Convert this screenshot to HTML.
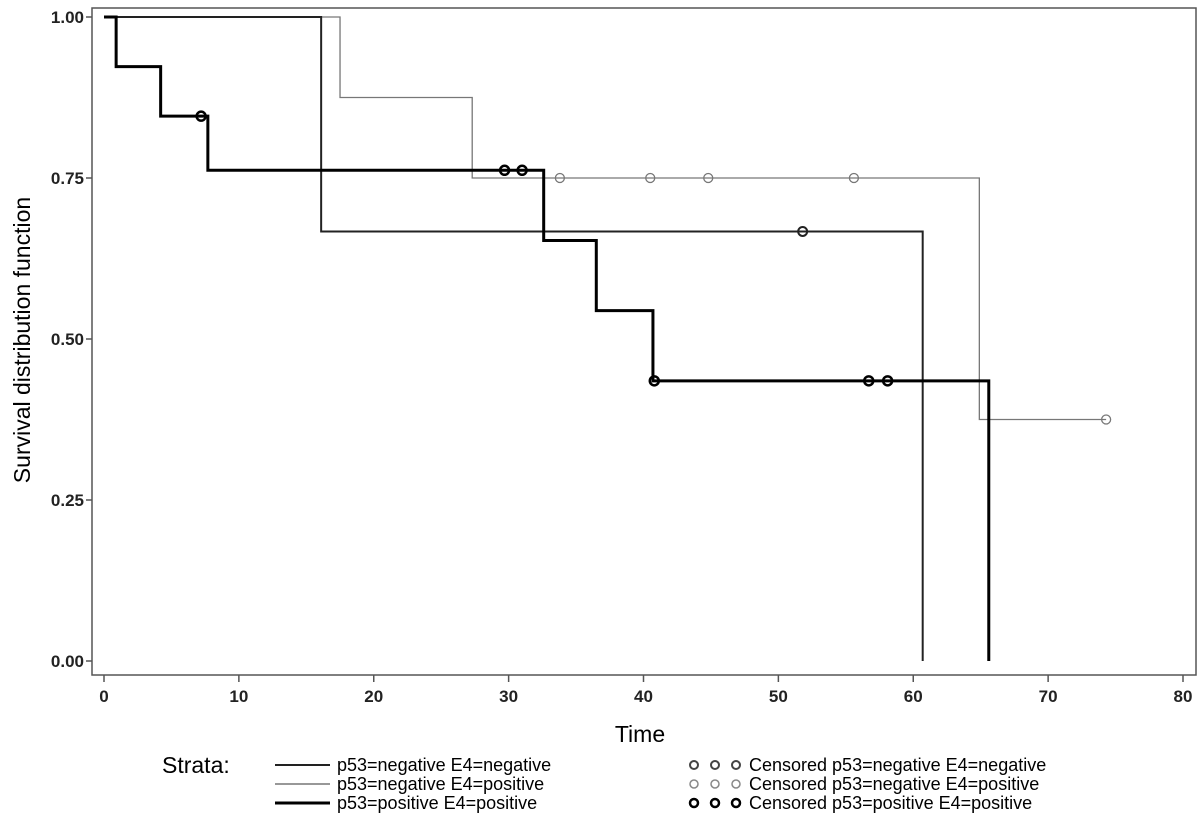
<!DOCTYPE html>
<html><head><meta charset="utf-8"><style>
html,body{margin:0;padding:0;background:#fff;}
svg{display:block;font-family:"Liberation Sans",Arial,sans-serif;}
</style></head><body>
<svg id="chart" width="1204" height="821" viewBox="0 0 1204 821">
<rect x="92" y="8" width="1104" height="667" fill="none" stroke="#555" stroke-width="1.5"/>
<g id="axes"></g>
<g id="series"></g>
<text x="30" y="340" font-size="23" text-anchor="middle" transform="rotate(-90 30 340)">Survival distribution function</text>
<text x="640" y="742" font-size="23" text-anchor="middle">Time</text>
<g font-size="18">
<text x="162" y="773" font-size="23">Strata:</text>
<line x1="275" y1="765" x2="330" y2="765" stroke="#222" stroke-width="2"/>
<text x="337" y="771">p53=negative E4=negative</text>
<line x1="275" y1="784" x2="330" y2="784" stroke="#777" stroke-width="1.5"/>
<text x="337" y="790">p53=negative E4=positive</text>
<line x1="275" y1="803" x2="330" y2="803" stroke="#000" stroke-width="3"/>
<text x="337" y="809">p53=positive E4=positive</text>
<g fill="none">
<circle cx="694" cy="765" r="4" stroke="#444" stroke-width="2"/><circle cx="715" cy="765" r="4" stroke="#444" stroke-width="2"/><circle cx="736" cy="765" r="4" stroke="#444" stroke-width="2"/>
<circle cx="694" cy="784" r="4" stroke="#888" stroke-width="1.5"/><circle cx="715" cy="784" r="4" stroke="#888" stroke-width="1.5"/><circle cx="736" cy="784" r="4" stroke="#888" stroke-width="1.5"/>
<circle cx="694" cy="803" r="4" stroke="#000" stroke-width="2.5"/><circle cx="715" cy="803" r="4" stroke="#000" stroke-width="2.5"/><circle cx="736" cy="803" r="4" stroke="#000" stroke-width="2.5"/>
</g>
<text x="749" y="771">Censored p53=negative E4=negative</text>
<text x="749" y="790">Censored p53=negative E4=positive</text>
<text x="749" y="809">Censored p53=positive E4=positive</text>
</g>
</svg>
<script>
const xTicks=[0,10,20,30,40,50,60,70,80];
const yTicks=[0,0.25,0.5,0.75,1];
const yTickLabels=["0.00","0.25","0.50","0.75","1.00"];
const negNegTimes=[0,16.1,60.7];
const negNegSurv=[1,0.667,0];
const negNegEnd=60.7;
const negNegCensor=[51.8];
const negPosTimes=[0,17.5,27.3,64.9];
const negPosSurv=[1,0.875,0.75,0.375];
const negPosEnd=74.3;
const negPosCensor=[33.8,40.5,44.8,55.6,74.3];
const posPosTimes=[0,0.9,4.2,7.7,32.6,36.5,40.7,65.6];
const posPosSurv=[1,0.923,0.846,0.762,0.653,0.544,0.435,0];
const posPosEnd=65.6;
const posPosCensor=[7.2,29.7,31.0,40.8,56.7,58.1];

const NS="http://www.w3.org/2000/svg";
const X=v=>104+v*(1183-104)/80;
const Y=v=>661-v*644;
function mk(tag,attrs,parent){const e=document.createElementNS(NS,tag);for(const k in attrs)e.setAttribute(k,attrs[k]);parent.appendChild(e);return e;}
const axes=document.getElementById('axes');
xTicks.forEach(t=>{
  const l=mk('line',{x1:X(t),x2:X(t),y1:675,y2:682,stroke:'#555','stroke-width':1.5},axes);
  
  
  const tx=mk('text',{x:X(t),y:702,'font-size':17,'font-weight':'bold','text-anchor':'middle',fill:'#222'},axes);
  tx.textContent=t;
  
  
});
yTicks.forEach((t,i)=>{
  const l=mk('line',{x1:86,x2:92,y1:Y(t),y2:Y(t),stroke:'#555','stroke-width':1.5},axes);
  
  
  const tx=mk('text',{x:84,y:Y(t)+6,'font-size':17,'font-weight':'bold','text-anchor':'end',fill:'#222'},axes);
  tx.textContent=yTickLabels[i];
  
  
});
const sg=document.getElementById('series');
function series(times,surv,end,cens,color,w,r,cw,name){
  let d='M'+X(times[0])+' '+Y(surv[0]);
  for(let i=1;i<times.length;i++){d+=' H'+X(times[i])+' V'+Y(surv[i]);}
  d+=' H'+X(end);
  const p=mk('path',{d:d,fill:'none',stroke:color,'stroke-width':w},sg);
  
  
  cens.forEach(c=>{
    let s=surv[0];
    for(let i=0;i<times.length;i++){if(times[i]<=c)s=surv[i];}
    const ci=mk('circle',{cx:X(c),cy:Y(s),r:r,fill:'none',stroke:color,'stroke-width':cw},sg);
    
    
  });
}
series(negPosTimes,negPosSurv,negPosEnd,negPosCensor,'#777',1.3,4.5,1.3,'neg-pos');
series(negNegTimes,negNegSurv,negNegEnd,negNegCensor,'#222',2,4.5,2,'neg-neg');
series(posPosTimes,posPosSurv,posPosEnd,posPosCensor,'#000',3,4.5,2.5,'pos-pos');
</script>
</body></html>
